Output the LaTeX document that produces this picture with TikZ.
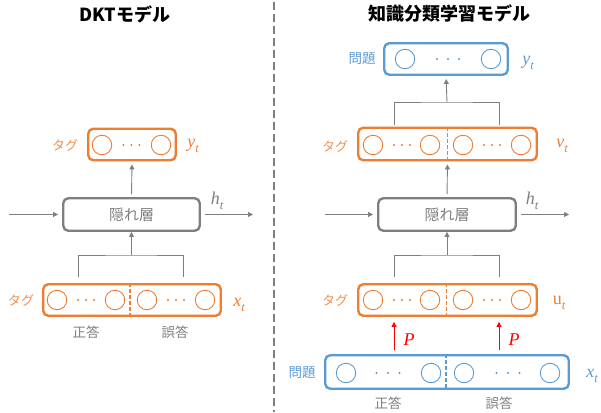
\documentclass[tikz,border=0pt]{standalone}
\usepackage{fontspec}
\setmainfont{Noto Sans CJK JP}
\newfontfamily\mfont{Liberation Serif}
\newcommand\msym[2]{{\mfont #1}\raisebox{-0.3em}{\fontsize{12.5}{13}\selectfont\mfont\itshape #2}}
\usetikzlibrary{arrows.meta}
\definecolor{orng}{HTML}{ED7D31}
\definecolor{blu}{HTML}{5B9BD5}
\definecolor{gry}{HTML}{7F7F7F}
\definecolor{dred}{HTML}{FF0000}
\begin{document}
\begin{tikzpicture}[x=1pt,y=-1pt,
  layer/.style={draw, line width=2.4pt, rounded corners=5pt, inner sep=0pt},
  obox/.style={layer, draw=orng},
  bbox/.style={layer, draw=blu},
  gbox/.style={layer, draw=gry, text=gry, font=\fontsize{15}{18}\selectfont},
  circ/.style={circle, draw, line width=0.9pt, minimum size=19.5pt, inner sep=0pt},
  oc/.style={circ, draw=orng},
  bc/.style={circ, draw=blu},
  conn/.style={draw=gry, line width=0.9pt},
  arr/.style={conn, -{Triangle[length=5pt,width=5pt]}},
  parr/.style={draw=dred, line width=0.9pt, -{Triangle[length=5pt,width=5pt]}},
  divo/.style={draw=orng, line width=1.8pt, dash pattern=on 4pt off 2pt},
  divb/.style={draw=blu, line width=1.8pt, dash pattern=on 4pt off 2pt},
  lab/.style={font=\fontsize{13}{15}\selectfont},
  mlab/.style={font=\fontsize{18}{20}\selectfont},
  ttl/.style={font=\fontsize{18}{22}\selectfont\bfseries, text=black},
]
\useasboundingbox (0,0) rectangle (601,412);
% centre divider
\draw[gry, line width=1.6pt, dash pattern=on 8pt off 4pt] (274,2) -- (274,412);

% ---------------- left: DKT
\node[ttl] (ttlL) at (125,14) {DKTモデル};

\node[obox, minimum width=87.5pt, minimum height=31.5pt] (tagL) at (132,144.5) {};
\node[oc] (tL1) at (102,145) {};
\node[oc] (tL2) at (161,145) {};
\foreach \d in {-8,0,8} \fill[orng] ({131.5+\d},145) circle (1.1);
\node[lab, text=orng!85] (tagLlab) at (65,145) {タグ};
\node[mlab, text=orng] (yL) at (193,146) {\msym{\itshape y}{t}};

\node[gbox, minimum width=136.5pt, minimum height=32.5pt] (hidL) at (131.5,214.5) {隠れ層};
\node[mlab, text=gry] (hL) at (217,201) {\msym{\itshape h}{t}};
\coordinate (inL) at (9,214.5);
\coordinate (outL) at (253,214.5);
\draw[arr, shorten >=4pt] (inL) -- (hidL.west);
\draw[arr, shorten <=4pt] (hidL.east) -- (outL);
\draw[arr, shorten <=3pt, shorten >=3pt] (hidL.north) -- (tagL.south);

\node[obox, minimum width=177.5pt, minimum height=31.5pt] (xL) at (132,300) {};
\draw[divo] (xL.north) ++(-2,0) coordinate (dL1) -- (dL1 |- xL.south);
\node[oc] (xL1) at (57,300) {};
\node[oc] (xL2) at (115,300) {};
\node[oc] (xL3) at (147,300) {};
\node[oc] (xL4) at (205,300) {};
\foreach \d in {-8,0,8} {\fill[orng] ({86+\d},300) circle (1.1); \fill[orng] ({176+\d},300) circle (1.1);}
\node[lab, text=orng!85] (xLlab) at (21,300) {タグ};
\node[mlab, text=orng] (xLm) at (239,305) {\msym{\itshape x}{t}};
\node[lab, text=gry, font=\fontsize{13.5}{16}\selectfont] (cL) at (86,332) {正答};
\node[lab, text=gry, font=\fontsize{13.5}{16}\selectfont] (wL) at (175,332) {誤答};

\coordinate (jL) at (131.5,255);
\coordinate (jLa) at (78,277);
\coordinate (jLb) at (183,277);
\draw[conn] (jLa) |- (jL) -| (jLb);
\draw[arr] (jL) -- (hidL.south);

% ---------------- right
\node[ttl] (ttlR) at (449,14) {知識分類学習モデル};

\node[bbox, minimum width=123.5pt, minimum height=31.5pt] (yR) at (446,59) {};
\node[bc] (yR1) at (405,59) {};
\node[bc] (yR2) at (491,59) {};
\foreach \d in {-11,0,11} \fill[blu] ({448+\d},59) circle (1.1);
\node[lab, text=blu, font=\fontsize{13.5}{16}\selectfont] (yRlab) at (362,59) {問題};
\node[mlab, text=blu] (yRm) at (528,63) {\msym{\itshape y}{t}};

\coordinate (jT) at (447,102);
\coordinate (jTa) at (394,125);
\coordinate (jTb) at (499,125);
\draw[conn] (jTa) |- (jT) -| (jTb);
\draw[arr, shorten >=3pt] (jT) -- (yR.south);

\node[obox, minimum width=178.5pt, minimum height=32.5pt] (vR) at (447.5,144) {};
\draw[divo] (vR.north) ++(0,0) coordinate (dV1) -- (dV1 |- vR.south);
\node[oc] (vR1) at (373,145) {};
\node[oc] (vR2) at (430,145) {};
\node[oc] (vR3) at (463,145) {};
\node[oc] (vR4) at (521,145) {};
\foreach \d in {-8,0,8} {\fill[orng] ({402+\d},145) circle (1.1); \fill[orng] ({492+\d},145) circle (1.1);}
\node[lab, text=orng!85] (vRlab) at (335,146) {タグ};
\node[mlab, text=orng] (vRm) at (562,146) {\msym{\itshape v}{t}};

\node[gbox, minimum width=137.5pt, minimum height=32.5pt] (hidR) at (447,214.5) {隠れ層};
\node[mlab, text=gry] (hR) at (532,201) {\msym{\itshape h}{t}};
\coordinate (inR) at (325,214.5);
\coordinate (outR) at (569,214.5);
\draw[arr, shorten >=4pt] (inR) -- (hidR.west);
\draw[arr, shorten <=4pt] (hidR.east) -- (outR);
\draw[arr, shorten <=3pt, shorten >=3pt] (hidR.north) -- (vR.south);

\coordinate (jR) at (447,255);
\coordinate (jRa) at (394,277);
\coordinate (jRb) at (499,277);
\draw[conn] (jRa) |- (jR) -| (jRb);
\draw[arr] (jR) -- (hidR.south);

\node[obox, minimum width=178.5pt, minimum height=31.5pt] (uR) at (447.5,300) {};
\draw[divo] (uR.north) ++(-1,0) coordinate (dU1) -- (dU1 |- uR.south);
\node[oc] (uR1) at (373,300) {};
\node[oc] (uR2) at (430,300) {};
\node[oc] (uR3) at (463,300) {};
\node[oc] (uR4) at (521,300) {};
\foreach \d in {-8,0,8} {\fill[orng] ({402+\d},300) circle (1.1); \fill[orng] ({492+\d},300) circle (1.1);}
\node[lab, text=orng!85] (uRlab) at (335,300) {タグ};
\node[mlab, text=orng] (uRm) at (559,303) {\msym{u}{t}};

\node[bbox, minimum width=243.5pt, minimum height=33.5pt] (xR) at (447,372) {};
\draw[divb] (xR.north) ++(-1,0) coordinate (dX1) -- (dX1 |- xR.south);
\node[bc] (xR1) at (346,373) {};
\node[bc] (xR2) at (431,373) {};
\node[bc] (xR3) at (464,373) {};
\node[bc] (xR4) at (550,373) {};
\foreach \d in {-11.5,0,11.5} {\fill[blu] ({388+\d},373) circle (1.1); \fill[blu] ({508+\d},373) circle (1.1);}
\node[lab, text=blu, font=\fontsize{13.5}{16}\selectfont] (xRlab) at (302,373) {問題};
\node[mlab, text=blu] (xRm) at (592,376) {\msym{\itshape x}{t}};
\node[lab, text=gry, font=\fontsize{13.5}{16}\selectfont] (cR) at (388,403) {正答};
\node[lab, text=gry, font=\fontsize{13.5}{16}\selectfont] (wR) at (499,403) {誤答};

\coordinate (pA) at (394,350);
\coordinate (pB) at (499,350);
\draw[parr, shorten >=5pt] (pA) -- (pA |- uR.south);
\draw[parr, shorten >=5pt] (pB) -- (pB |- uR.south);
\node[mlab, text=dred] (pAl) at (409,340) {\mfont\itshape P};
\node[mlab, text=dred] (pBl) at (514,340) {\mfont\itshape P};
\end{tikzpicture}
\end{document}
